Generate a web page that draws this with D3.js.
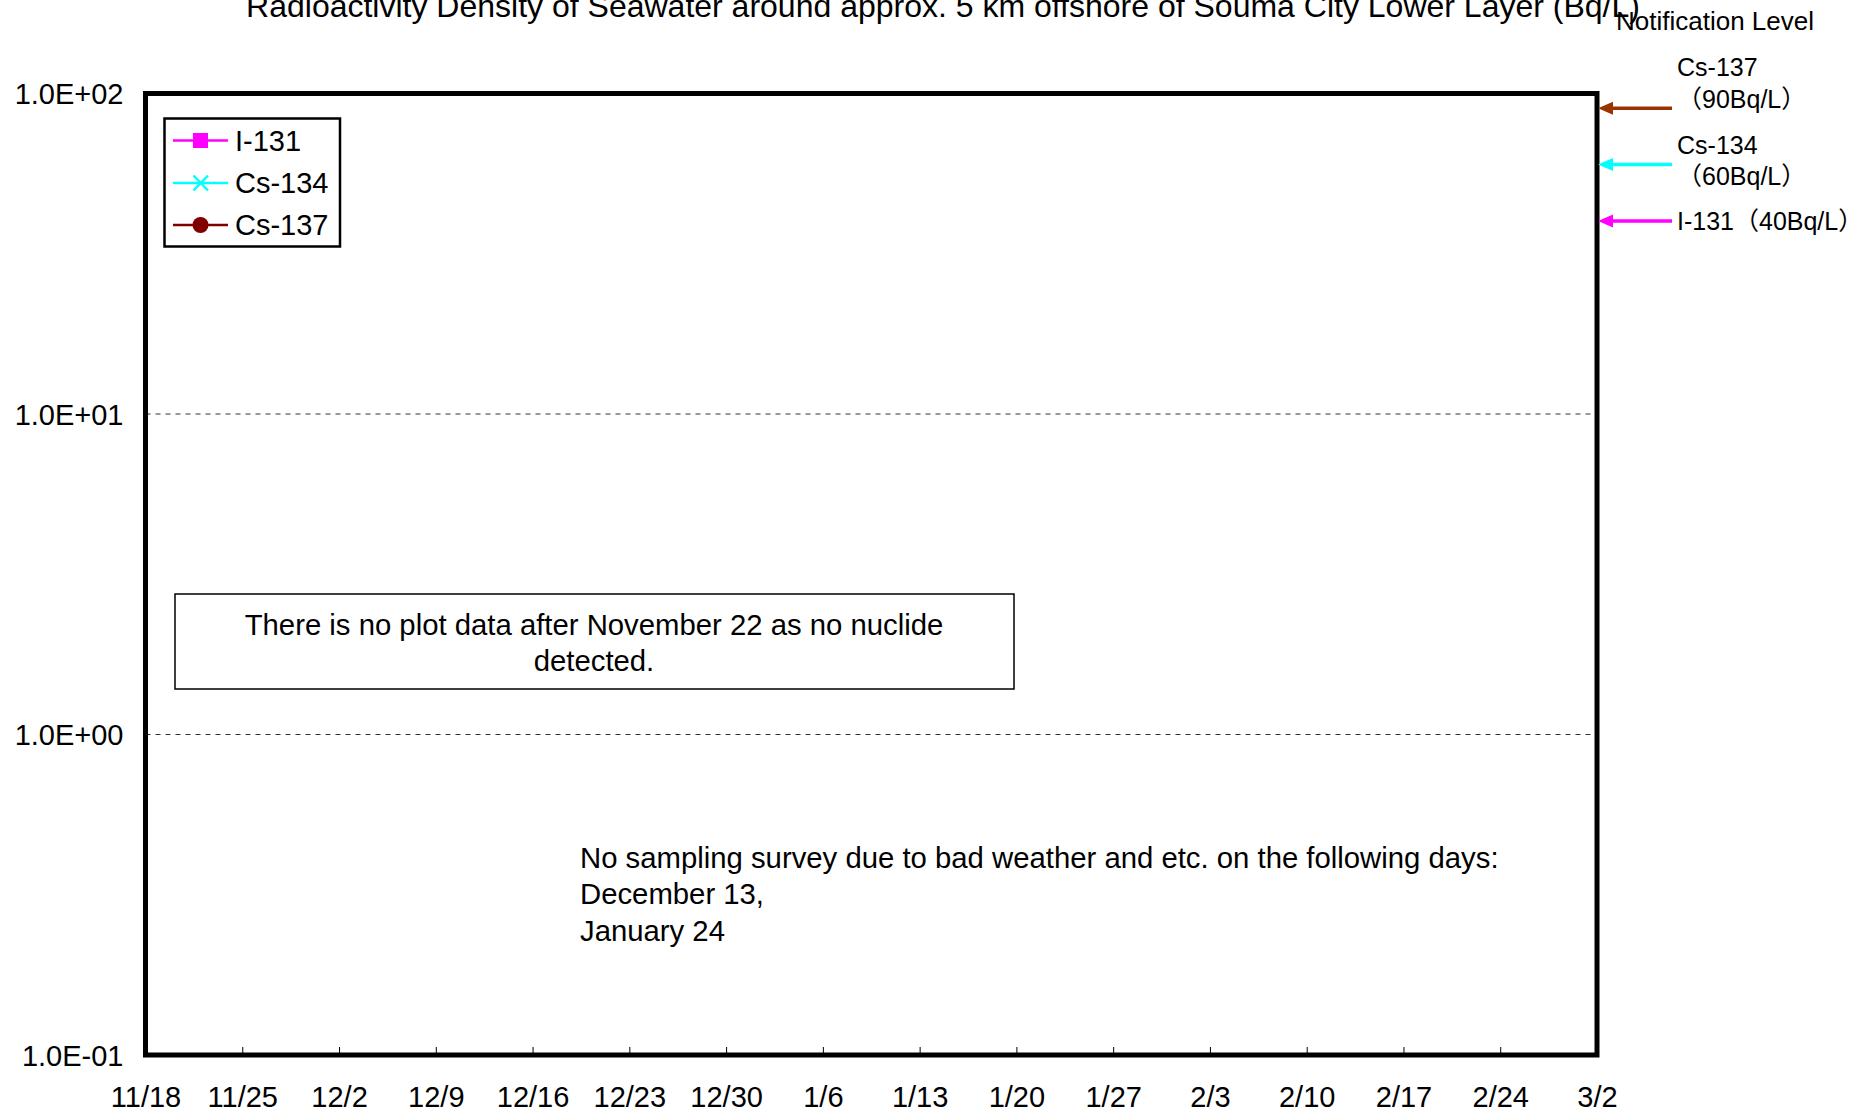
<!DOCTYPE html>
<html>
<head>
<meta charset="utf-8">
<script src="https://cdn.jsdelivr.net/npm/d3@7"></script>
<style>
  html, body { margin: 0; padding: 0; background: #fff; }
  svg { display: block; font-family: "Liberation Sans", Arial, sans-serif; }
</style>
</head>
<body>
<svg id="chart" width="1870" height="1115"></svg>
<script>
// ---------- data ----------
const titleText = "Radioactivity Density of Seawater around approx. 5 km offshore of Souma City Lower Layer (Bq/L)";
const xStart = "2011-11-18";
const xEnd = "2012-03-02";
const xTickDates = ["2011-11-18","2011-11-25","2011-12-02","2011-12-09","2011-12-16","2011-12-23","2011-12-30",
                    "2012-01-06","2012-01-13","2012-01-20","2012-01-27","2012-02-03","2012-02-10","2012-02-17",
                    "2012-02-24","2012-03-02"];
const yTicks = [0.1, 1, 10, 100];
const yTickLabels = ["1.0E-01", "1.0E+00", "1.0E+01", "1.0E+02"];
const seriesNames = ["I-131", "Cs-134", "Cs-137"];
const seriesColors = ["#FF00FF", "#00FFFF", "#800000"];
const seriesMarkers = ["square", "cross", "circle"];
// no nuclide detected in the shown period -> no points
const seriesI131 = [];
const seriesCs134 = [];
const seriesCs137 = [];
const notifNames = ["Cs-137", "Cs-134", "I-131"];
const notifValues = [90, 60, 40];
const notifColors = ["#993300", "#00FFFF", "#FF00FF"];
const note1 = ["There is no plot data after November 22 as no nuclide", "detected."];
const note2 = ["No sampling survey due to bad weather and etc. on the following days:", "December 13,", "January 24"];

// ---------- layout ----------
const svg = d3.select("#chart");
const M = { left: 145.5, right: 1597, top: 93.5, bottom: 1055 };
const parse = d3.timeParse("%Y-%m-%d");
const x = d3.scaleTime().domain([parse(xStart), parse(xEnd)]).range([M.left, M.right]);
const y = d3.scaleLog().domain([0.1, 100]).range([M.bottom, M.top]);
const FONT = "Liberation Sans, Arial, sans-serif";

// title
svg.append("text").attr("x", 943).attr("y", 17).attr("text-anchor", "middle")
  .attr("font-size", 32).attr("fill", "#000").text(titleText);

// gridlines (dashed) at interior decades
svg.append("g").selectAll("line").data(yTicks.filter(v => v > 0.1 && v < 100)).join("line")
  .attr("x1", M.left).attr("x2", M.right).attr("y1", d => y(d)).attr("y2", d => y(d))
  .attr("stroke", "#333").attr("stroke-width", 1).attr("stroke-dasharray", "5,5");

// x axis ticks (inward) and labels
const xAxis = d3.axisBottom(x).tickValues(xTickDates.map(parse))
  .tickFormat(d3.timeFormat("%-m/%-d")).tickSizeInner(-8).tickSizeOuter(0).tickPadding(0);
const gx = svg.append("g").attr("transform", `translate(0,${M.bottom})`).call(xAxis);
gx.select(".domain").remove();
gx.selectAll(".tick line").attr("stroke", "#000").attr("stroke-width", 1);
gx.selectAll(".tick text").attr("font-size", 29).attr("font-family", FONT)
  .attr("fill", "#000").attr("y", 52).attr("dy", 0);

// y axis labels
const yAxis = d3.axisLeft(y).tickValues(yTicks).tickFormat((d, i) => yTickLabels[i]).tickSize(0).tickPadding(22);
const gy = svg.append("g").attr("transform", `translate(${M.left},0)`).call(yAxis);
gy.select(".domain").remove();
gy.selectAll(".tick text").attr("font-size", 29).attr("font-family", FONT)
  .attr("fill", "#000").attr("dy", "0.36em");

// plot frame
svg.append("rect").attr("x", M.left).attr("y", M.top).attr("width", M.right - M.left).attr("height", M.bottom - M.top)
  .attr("fill", "none").attr("stroke", "#000").attr("stroke-width", 5);

// series (empty)
const allSeries = [seriesI131, seriesCs134, seriesCs137];
const line = d3.line().x(d => x(parse(d.date))).y(d => y(d.value));
allSeries.forEach((s, i) => {
  svg.append("path").datum(s).attr("d", line).attr("fill", "none").attr("stroke", seriesColors[i]).attr("stroke-width", 2);
});

// legend
const lg = svg.append("g");
lg.append("rect").attr("x", 164.5).attr("y", 118.5).attr("width", 175.5).attr("height", 128)
  .attr("fill", "#fff").attr("stroke", "#000").attr("stroke-width", 2.5);
const legY = [140.5, 183, 225];
seriesNames.forEach((n, i) => {
  const g = lg.append("g").attr("transform", `translate(0,${legY[i]})`);
  g.append("line").attr("x1", 173).attr("x2", 228).attr("stroke", seriesColors[i]).attr("stroke-width", 2.5);
  const mk = seriesMarkers[i];
  if (mk === "square") g.append("rect").attr("x", 193).attr("y", -7.5).attr("width", 15).attr("height", 15).attr("fill", seriesColors[i]);
  if (mk === "circle") g.append("circle").attr("cx", 200.5).attr("cy", 0).attr("r", 8).attr("fill", seriesColors[i]);
  if (mk === "cross") g.append("path").attr("d", "M193.5,-7.5L208,7.5M193.5,7.5L208,-7.5").attr("stroke", seriesColors[i]).attr("stroke-width", 2.5);
  g.append("text").attr("x", 235).attr("y", 0).attr("dy", "0.36em").attr("font-size", 29).attr("fill", "#000").text(n);
});

// notes
svg.append("rect").attr("x", 175).attr("y", 594).attr("width", 839).attr("height", 95)
  .attr("fill", "none").attr("stroke", "#000").attr("stroke-width", 1.5);
note1.forEach((t, i) => svg.append("text").attr("x", 594).attr("y", 624 + i * 36).attr("dy", "0.36em")
  .attr("text-anchor", "middle").attr("font-size", 29.3).attr("fill", "#000").text(t));
note2.forEach((t, i) => svg.append("text").attr("x", 580).attr("y", 857 + i * 36.5).attr("dy", "0.36em")
  .attr("font-size", 29.3).attr("fill", "#000").text(t));

// notification levels
svg.append("text").attr("x", 1616).attr("y", 21).attr("dy", "0.36em").attr("font-size", 26).attr("fill", "#000")
  .text("Notification Level");
const nl = svg.append("g");
notifValues.forEach((v, i) => {
  const yy = y(v);
  nl.append("line").attr("x1", 1608).attr("x2", 1672).attr("y1", yy).attr("y2", yy)
    .attr("stroke", notifColors[i]).attr("stroke-width", 3.5);
  nl.append("path").attr("d", `M1598,${yy}L1613,${yy - 6.5}L1613,${yy + 6.5}Z`).attr("fill", notifColors[i]);
});
const cjk = "'Liberation Sans', 'Noto Sans CJK JP', sans-serif";
const nLab = [
  { t: "Cs-137", x: 1677, y: 67 }, { t: "（90Bq/L）", x: 1677, y: 99 },
  { t: "Cs-134", x: 1677, y: 145 }, { t: "（60Bq/L）", x: 1677, y: 176 },
  { t: "I-131（40Bq/L）", x: 1677, y: 221 }
];
nLab.forEach(d => svg.append("text").attr("x", d.x).attr("y", d.y).attr("dy", "0.36em")
  .attr("font-size", 25).attr("font-family", cjk).attr("fill", "#000").text(d.t));
</script>
</body>
</html>
